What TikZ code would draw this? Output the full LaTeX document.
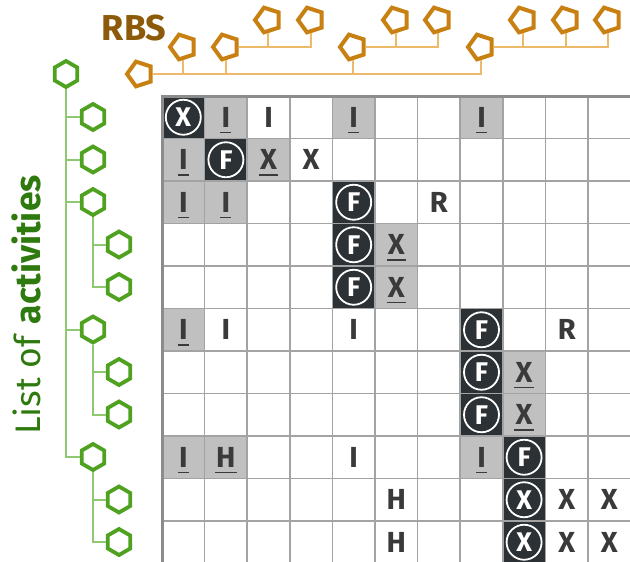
\documentclass[tikz,border=0pt]{standalone}
\usepackage{fontspec}
\setmainfont{Fira Sans}
\usetikzlibrary{shapes.geometric}
\definecolor{darkcell}{HTML}{2B3134}
\definecolor{graycell}{HTML}{C0C0C0}
\definecolor{gridline}{HTML}{A3A3A3}
\definecolor{gridborder}{HTML}{8C8C8C}
\definecolor{lettercol}{HTML}{3A3A3A}
\definecolor{rbsbrown}{HTML}{8C5A08}
\definecolor{pentaorange}{HTML}{C98012}
\definecolor{rbsline}{HTML}{EDB96A}
\definecolor{actgreen}{HTML}{2F7A0E}
\definecolor{hexgreen}{HTML}{4FA220}
\definecolor{actline}{HTML}{8FC870}
\begin{document}
\begin{tikzpicture}[x=1pt,y=-1pt,
  penta/.style={regular polygon, regular polygon sides=5, shape border rotate=90,
    minimum size=26pt, inner sep=0pt, draw=pentaorange, line width=4pt, fill=white},
  hexa/.style={regular polygon, regular polygon sides=6, shape border rotate=30,
    minimum size=26pt, inner sep=0pt, draw=hexgreen, line width=3.8pt, fill=white},
  rbsedge/.style={draw=rbsline, line width=2pt},
  actedge/.style={draw=actline, line width=2pt},
  cellbase/.style={rectangle, minimum width=42.6pt, minimum height=42.5pt, inner sep=0pt, draw=none},
  cellD/.style={cellbase, fill=darkcell},
  cellG/.style={cellbase, fill=graycell},
  cellW/.style={cellbase, fill=white},
  letbase/.style={inner sep=0pt, outer sep=0pt, text depth=0pt},
  letW/.style={letbase, text=lettercol, font=\fontsize{29}{30}\selectfont\bfseries},
  letG/.style={letW, append after command={
      ([xshift=-1.2pt,yshift=-5.2pt]\tikzlastnode.south west) edge[draw=lettercol, line width=1.8pt]
      ([xshift=1.2pt,yshift=-5.2pt]\tikzlastnode.south east)}},
  letD/.style={circle, draw=white, line width=1.8pt, minimum size=35pt, inner sep=0pt,
    text depth=0pt, text=white, font=\fontsize{27}{29}\selectfont\bfseries},
  gridln/.style={draw=gridline, line width=1.5pt},
  gridbd/.style={draw=gridborder, line width=3pt}
]
\useasboundingbox (0,0) rectangle (630,562);
\clip (0,0) rectangle (630,562);

% cell fills
\foreach \r/\c/\t/\l in {1/1/D/X, 1/2/G/I, 1/3/W/I, 1/5/G/I, 1/8/G/I,
  2/1/G/I, 2/2/D/F, 2/3/G/X, 2/4/W/X,
  3/1/G/I, 3/2/G/I, 3/5/D/F, 3/7/W/R,
  4/5/D/F, 4/6/G/X,
  5/5/D/F, 5/6/G/X,
  6/1/G/I, 6/2/W/I, 6/5/W/I, 6/8/D/F, 6/10/W/R,
  7/8/D/F, 7/9/G/X,
  8/8/D/F, 8/9/G/X,
  9/1/G/I, 9/2/G/H, 9/5/W/I, 9/8/G/I, 9/9/D/F,
  10/6/W/H, 10/9/D/X, 10/10/W/X, 10/11/W/X,
  11/6/W/H, 11/9/D/X, 11/10/W/X, 11/11/W/X}{
  \edef\cs{cell\t}
  \node[\cs] (cell-\r-\c) at ({162+42.6*(\c-0.5)},{96+42.5*(\r-0.5)}) {};
}

% grid
\foreach \k in {1,...,11}{
  \draw[gridln] ({162+42.6*\k},96) -- ({162+42.6*\k},562);
}
\foreach \k in {1,...,10}{
  \draw[gridln] (162,{96+42.5*\k}) -- (630,{96+42.5*\k});
}
\draw[gridbd] (160.5,96) -- (630,96);
\draw[gridbd] (162,96) -- (162,562);

% letters
\foreach \r/\c/\t/\l in {1/1/D/X, 1/2/G/I, 1/3/W/I, 1/5/G/I, 1/8/G/I,
  2/1/G/I, 2/2/D/F, 2/3/G/X, 2/4/W/X,
  3/1/G/I, 3/2/G/I, 3/5/D/F, 3/7/W/R,
  4/5/D/F, 4/6/G/X,
  5/5/D/F, 5/6/G/X,
  6/1/G/I, 6/2/W/I, 6/5/W/I, 6/8/D/F, 6/10/W/R,
  7/8/D/F, 7/9/G/X,
  8/8/D/F, 8/9/G/X,
  9/1/G/I, 9/2/G/H, 9/5/W/I, 9/8/G/I, 9/9/D/F,
  10/6/W/H, 10/9/D/X, 10/10/W/X, 10/11/W/X,
  11/6/W/H, 11/9/D/X, 11/10/W/X, 11/11/W/X}{
  \edef\ls{let\t}
  \node[\ls] (let-\r-\c) at (cell-\r-\c.center) {\l};
}

% RBS tree
\node[penta] (r0) at (140,74) {};
\node[penta] (r1) at (183,47) {};
\node[penta] (r2) at (226,47) {};
\node[penta] (r21) at (268,20) {};
\node[penta] (r22) at (311,20) {};
\node[penta] (r3) at (353,47) {};
\node[penta] (r31) at (396,20) {};
\node[penta] (r32) at (438,20) {};
\node[penta] (r4) at (481,47) {};
\node[penta] (r41) at (523,20) {};
\node[penta] (r42) at (566,20) {};
\node[penta] (r43) at (608,20) {};
\foreach \a/\b in {r0/r1, r0/r2, r0/r3, r0/r4, r2/r21, r2/r22, r3/r31, r3/r32, r4/r41, r4/r42, r4/r43}{
  \draw[rbsedge] (\a) -| (\b);
}

% activity tree
\node[hexa] (a0) at (66,74) {};
\node[hexa] (a1) at (93,117) {};
\node[hexa] (a2) at (93,159.5) {};
\node[hexa] (a3) at (93,202) {};
\node[hexa] (a31) at (119,244.5) {};
\node[hexa] (a32) at (119,287) {};
\node[hexa] (a4) at (93,329.5) {};
\node[hexa] (a41) at (119,372) {};
\node[hexa] (a42) at (119,414.5) {};
\node[hexa] (a5) at (93,457) {};
\node[hexa] (a51) at (119,499.5) {};
\node[hexa] (a52) at (119,542) {};
\foreach \a/\b in {a0/a1, a0/a2, a0/a3, a0/a4, a0/a5, a3/a31, a3/a32, a4/a41, a4/a42, a5/a51, a5/a52}{
  \draw[actedge] (\a) |- (\b);
}

% titles
\node[anchor=base, text=rbsbrown, font=\fontsize{36}{36}\selectfont\bfseries] (rbs) at (134,40.5) {RBS};
\node[rotate=90, anchor=base, text=actgreen, font=\fontsize{35.5}{35.5}\selectfont] (act) at (40,305) {List of \textbf{activities}};
\end{tikzpicture}
\end{document}
